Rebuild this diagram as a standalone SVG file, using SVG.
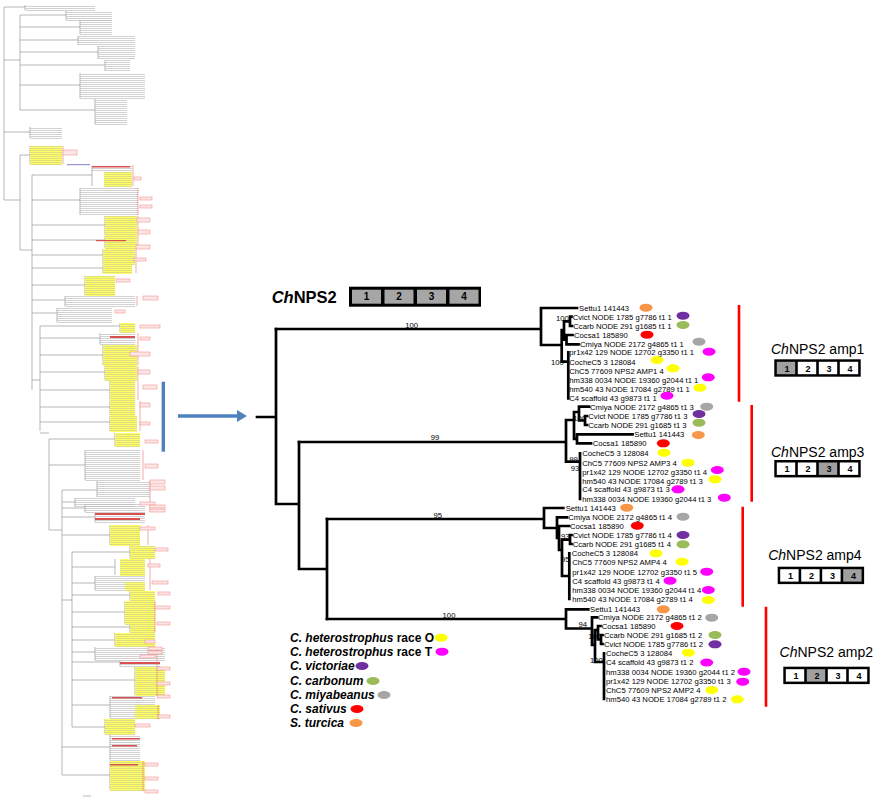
<svg xmlns="http://www.w3.org/2000/svg" width="879" height="800" viewBox="0 0 879 800">
<style>
.b{fill:none;stroke:#000;stroke-width:2.7;stroke-linecap:square}
.t{font-family:"Liberation Sans",Arial,sans-serif;font-size:7.7px;fill:#000}
.lg{font-family:"Liberation Sans",Arial,sans-serif;font-size:12px;font-weight:bold;fill:#000}
.am{font-family:"Liberation Sans",Arial,sans-serif;font-size:14px;fill:#000}
.n{font-family:"Liberation Sans",Arial,sans-serif;font-size:9px;font-weight:bold;fill:#000;text-anchor:middle}
.o{fill:#FFFF00}.m{fill:#FF00FF}.v{fill:#7030A0}.g{fill:#9BBB59}.y{fill:#A6A6A6}.r{fill:#FF0000}.s{fill:#F79646}
.th{fill:none;stroke:#999;stroke-width:0.7}
.rl{stroke:#FF0000;stroke-width:2.6}
.pk{fill:#fde6e6;stroke:#f28080;stroke-width:0.5}
.rs{fill:#d85050}
.bk{fill:none;stroke:#f07070;stroke-width:0.6}
</style>
<defs>
<pattern id="pg" width="8" height="2" patternUnits="userSpaceOnUse"><rect width="8" height="0.7" fill="#bdbdbd"/></pattern>
<pattern id="py" width="8" height="2" patternUnits="userSpaceOnUse"><rect width="8" height="2" fill="#ffff66"/><rect width="8" height="0.6" fill="#c9c98a"/></pattern>
</defs>
<rect width="879" height="800" fill="#fff"/>

<!-- overview thumbnail tree -->
<g id="overview">
<path class="th" d="M4,7V200M4,60H20M20,15V110M4,200H20M20,155V250M20,250H32M32,175V390M32,380H40M40,326V431M40,433H49M49,439V530M49,530H62M62,490V775M62,600H72M72,552V727
M4,7H25M25,5V10M20,15H66M66,11V20M20,27H80M80,20V34M20,40H78M78,36V45M20,52H98M98,46V59M20,65H105M105,60V71M20,85H80M80,73V98M20,110H95M95,99V124
M4,132H30M30,127V138M20,155H30M30,146V164M32,175H92M92,166V186M32,200H80M80,188V215M32,225H105M105,216V235M32,240H105M105,236V248M32,255H103M103,249V264M32,268H103M103,265V273M32,285H85M85,276V295M32,300H65M65,296V306M32,313H57M57,308V322
M40,326H120M120,323V332M40,338H100M100,333V344M40,355H103M103,345V365M40,372H105M105,366V380M40,390H110M110,381V400M40,407H110M110,401V415M40,422H110M110,416V431M49,439H115M115,433V446M49,465H85M85,450V480
M62,490H97M97,481V497M62,502H75M75,498V507M62,508H85M85,504V512M62,517H95M95,513V522M62,535H110M110,525V545M72,552H130M130,546V558M72,567H115M115,559V575M72,583H95M95,576V590M72,595H130M130,591V600M72,612H125M125,601V624M72,627H130M130,625V632M72,640H115M115,633V646M72,652H95M95,647V660M72,662H120M120,661V666M72,680H135M135,667V695M72,705H110M110,696V718M72,727H105M105,719V734M62,747H110M110,735V760M62,775H110M110,761V790M83,796H91"/>
<g fill="url(#pg)">
<rect x="25" y="5" width="70" height="6"/><rect x="66" y="11" width="46" height="10"/><rect x="80" y="20" width="32" height="15"/><rect x="78" y="36" width="57" height="10"/><rect x="98" y="46" width="37" height="14"/><rect x="105" y="60" width="25" height="12"/><rect x="80" y="73" width="65" height="26"/><rect x="95" y="99" width="32" height="26"/><rect x="30" y="127" width="32" height="12"/><rect x="92" y="166" width="40" height="6"/><rect x="80" y="188" width="58" height="28"/><rect x="65" y="296" width="70" height="11"/><rect x="57" y="308" width="55" height="15"/><rect x="100" y="333" width="35" height="12"/><rect x="85" y="450" width="55" height="31"/><rect x="97" y="481" width="53" height="17"/><rect x="75" y="498" width="60" height="10"/><rect x="85" y="504" width="60" height="9"/><rect x="95" y="513" width="50" height="10"/><rect x="95" y="576" width="50" height="15"/><rect x="95" y="647" width="70" height="14"/><rect x="120" y="661" width="40" height="6"/><rect x="110" y="696" width="45" height="23"/><rect x="110" y="735" width="30" height="26"/>
</g>
<g fill="url(#py)">
<rect x="30" y="146" width="32" height="19"/><rect x="104" y="172" width="28" height="15"/><rect x="105" y="216" width="32" height="20"/><rect x="105" y="236" width="32" height="13"/><rect x="103" y="249" width="32" height="16"/><rect x="103" y="265" width="29" height="9"/><rect x="85" y="276" width="30" height="20"/><rect x="120" y="323" width="15" height="10"/><rect x="103" y="345" width="34" height="21"/><rect x="105" y="366" width="32" height="15"/><rect x="110" y="381" width="25" height="20"/><rect x="110" y="401" width="25" height="15"/><rect x="110" y="416" width="27" height="16"/><rect x="115" y="433" width="25" height="14"/><rect x="110" y="525" width="30" height="21"/><rect x="130" y="546" width="25" height="13"/><rect x="120" y="559" width="25" height="17"/><rect x="125" y="582" width="20" height="9"/><rect x="130" y="591" width="25" height="10"/><rect x="125" y="601" width="30" height="24"/><rect x="130" y="625" width="25" height="8"/><rect x="115" y="633" width="40" height="14"/><rect x="135" y="667" width="30" height="29"/><rect x="135" y="705" width="25" height="14"/><rect x="105" y="719" width="30" height="16"/><rect x="110" y="761" width="35" height="30"/>
</g>
<g class="rs">
<rect x="92" y="166" width="38" height="1.5"/><rect x="110" y="336" width="25" height="2"/><rect x="95" y="513" width="50" height="2"/><rect x="95" y="518" width="45" height="2"/><rect x="120" y="662" width="40" height="2"/><rect x="112" y="697" width="30" height="1.5"/><rect x="112" y="738" width="28" height="1.5"/><rect x="112" y="745" width="25" height="1.5"/><rect x="110" y="764" width="28" height="1.5"/><rect x="96" y="240" width="30" height="1.2"/>
</g>
<path d="M67,164.7H90" stroke="#6060c0" stroke-width="0.8"/>
<path class="bk" d="M63,146V164M133,165V186M138,188V215M138,216V248M136,249V273M137,296V306M138,333V365M138,366V400M140,401V431M143,450V480M150,481V512M148,525V545M150,559V590M155,601V632M157,647V666M157,667V696M158,705V719M143,761V791"/>
<g class="pk">
<rect x="63" y="150" width="14" height="5"/><rect x="134" y="177" width="7" height="3"/><rect x="140" y="197" width="12" height="3"/><rect x="140" y="205" width="12" height="3"/><rect x="137" y="218" width="13" height="4"/><rect x="138" y="230" width="12" height="4"/><rect x="136" y="245" width="14" height="4"/><rect x="134" y="258" width="12" height="3"/><rect x="116" y="279" width="14" height="3"/><rect x="143" y="296" width="15" height="4"/><rect x="115" y="310" width="10" height="3"/><rect x="140" y="325" width="20" height="3"/><rect x="140" y="337" width="10" height="3"/><rect x="130" y="352" width="20" height="4"/><rect x="138" y="370" width="12" height="4"/><rect x="143" y="385" width="14" height="4"/><rect x="140" y="403" width="10" height="4"/><rect x="140" y="422" width="10" height="3"/><rect x="145" y="440" width="13" height="3"/><rect x="145" y="464" width="13" height="4"/><rect x="150" y="480" width="15" height="4"/><rect x="150" y="486" width="15" height="4"/><rect x="140" y="502" width="15" height="3"/><rect x="150" y="505" width="15" height="3"/><rect x="150" y="509" width="15" height="3"/><rect x="140" y="527" width="15" height="3"/><rect x="155" y="548" width="13" height="3"/><rect x="148" y="564" width="12" height="3"/><rect x="152" y="581" width="16" height="3"/><rect x="158" y="592" width="12" height="3"/><rect x="155" y="606" width="15" height="3"/><rect x="157" y="622" width="13" height="3"/><rect x="145" y="640" width="10" height="3"/><rect x="148" y="647" width="14" height="3"/><rect x="148" y="651" width="14" height="3"/><rect x="140" y="655" width="15" height="3"/><rect x="157" y="667" width="13" height="3"/><rect x="157" y="682" width="13" height="3"/><rect x="157" y="695" width="13" height="3"/><rect x="158" y="715" width="12" height="3"/><rect x="135" y="724" width="15" height="3"/><rect x="145" y="763" width="13" height="3"/><rect x="145" y="777" width="13" height="3"/><rect x="145" y="790" width="13" height="3"/>
</g>
<rect x="161.6" y="381.7" width="3.4" height="70" fill="#4F81BD"/>
</g>

<!-- arrow -->
<g id="arrow">
<path d="M178,416H239" stroke="#4F81BD" stroke-width="3.4"/>
<path d="M237,410L247,416L237,422Z" fill="#4F81BD"/>
</g>

<!-- header -->
<g id="header">
<text x="271.7" y="302.7" font-family="Liberation Sans, Arial, sans-serif" font-size="16.5" font-weight="bold"><tspan font-style="italic">Ch</tspan>NPS2</text>
<rect x="349" y="286.7" width="132" height="20" fill="#000"/>
<g fill="#A6A6A6"><rect x="352" y="289.7" width="29" height="14"/><rect x="384.5" y="289.7" width="29" height="14"/><rect x="417" y="289.7" width="29" height="14"/><rect x="449.5" y="289.7" width="29" height="14"/></g>
<g class="n" style="font-size:10px"><text x="366.5" y="300.3">1</text><text x="399" y="300.3">2</text><text x="431.5" y="300.3">3</text><text x="464" y="300.3">4</text></g>
</g>

<!-- connectors / tree branches -->
<g id="connectors">
<path class="b" d="M257,417H276M276,329V504M276,504H299M299,442V569M299,569H327M327,519V619"/>
<path class="b" d="M276,329H541M541,308V345M541,308H577M541,345H561.7M561.7,330V361.7M561.7,330H564M564,321.3V339.7M564,321.3H570M570,316.7V326M570,316.7H571.5M570,326H572M564,339.7H566.5M566.5,335V344.3M566.5,335H572.5M566.5,344.3H578.5M561.7,361.7H568.3M568.3,352.3V398.3"/>
<path class="b" d="M299,442H566M566,420V461.7M566,420H574M574,412V438.8M574,412H579M579,406.7V420.5M579,406.7H589M579,420.5H585M585,416V425M585,416H587M585,425H587M574,438.8H577M577,434.3V443.3M577,434.3H632.5M577,443.3H591M566,461.7H580M580,453.3V499"/>
<path class="b" d="M327,519H544M544,508V528M544,508H563.3M544,528H557M557,517.3V538M557,517.3H567M557,538H559M559,526V550M559,526H569M559,550H562M562,539.7V576M562,539.7H570M570,535V544M570,535H571.5M570,544H571.5M562,576H569.3M569.3,553.3V599"/>
<path class="b" d="M327,619H566M566,609.3V628.5M566,609.3H588.3M566,628.5H592M592,617.3V645M592,617.3H597M592,645H595M595,630V662M595,630H598M598,626V639.5M598,626H600.5M598,639.5H601M601,635V644M601,635H602.5M601,644H602.5M595,662H604M604,653.3V699"/>
<g class="t" text-anchor="middle">
<text x="411.7" y="327.5">100</text><text x="435" y="440">99</text><text x="437.7" y="517.5">95</text><text x="449" y="617.5">100</text>
</g>
<g class="t">
<text x="556" y="321">100</text><text x="551" y="364.5">100</text>
<text x="573.3" y="421">100</text><text x="569.3" y="462">99</text><text x="570.7" y="471">93</text>
<text x="561" y="538.8">93</text><text x="561" y="562">95</text>
<text x="578.5" y="626.5">94</text><text x="601" y="638.5" text-anchor="end">100</text><text x="590" y="662.7">100</text>
</g>
</g>

<!-- clade 1 (amp1) -->
<g id="c1-settu1"><text class="t" x="579" y="310.5">Settu1 141443</text><ellipse class="s" cx="646" cy="307.7" rx="6.5" ry="4"/></g>
<g id="c1-cvict"><text class="t" x="572.7" y="319.5">Cvict NODE 1785 g7786 t1 1</text><ellipse class="v" cx="683" cy="315.7" rx="6.5" ry="4"/></g>
<g id="c1-ccarb"><text class="t" x="573.3" y="328.8">Ccarb NODE 291 g1685 t1 1</text><ellipse class="g" cx="683" cy="325" rx="6.5" ry="4"/></g>
<g id="c1-cocsa1"><text class="t" x="574" y="337.8">Cocsa1 185890</text><ellipse class="r" cx="647" cy="334.7" rx="6.5" ry="4"/></g>
<g id="c1-cmiya"><text class="t" x="580" y="347.1">Cmiya NODE 2172 g4865 t1 1</text><ellipse class="y" cx="699" cy="341.7" rx="6.5" ry="4"/></g>
<g id="c1-pr1x42"><text class="t" x="569.3" y="355.1">pr1x42 129 NODE 12702 g3350 t1 1</text><ellipse class="m" cx="709" cy="351.7" rx="6.5" ry="4"/></g>
<g id="c1-cochec5"><text class="t" x="569.3" y="364.5">CocheC5 3 128084</text><ellipse class="o" cx="657" cy="360" rx="6.5" ry="4"/></g>
<g id="c1-chc5"><text class="t" x="569.3" y="373.5">ChC5 77609 NPS2 AMP1 4</text><ellipse class="o" cx="673" cy="368.3" rx="6.5" ry="4"/></g>
<g id="c1-hm338"><text class="t" x="569.3" y="382.8">hm338 0034 NODE 19360 g2044 t1 1</text><ellipse class="m" cx="708.3" cy="377.3" rx="6.5" ry="4"/></g>
<g id="c1-hm540"><text class="t" x="569.3" y="391.8">hm540 43 NODE 17084 g2789 t1 1</text><ellipse class="o" cx="700" cy="387.7" rx="6.5" ry="4"/></g>
<g id="c1-c4"><text class="t" x="569.3" y="401.1">C4 scaffold 43 g9873 t1 1</text><ellipse class="m" cx="667" cy="395.7" rx="6.5" ry="4"/></g>

<!-- clade 2 (amp3) -->
<g id="c2-cmiya"><text class="t" x="590" y="409.5">Cmiya NODE 2172 g4865 t1 3</text><ellipse class="y" cx="706.7" cy="406.7" rx="6.5" ry="4"/></g>
<g id="c2-cvict"><text class="t" x="588.3" y="418.8">Cvict NODE 1785 g7786 t1 3</text><ellipse class="v" cx="699" cy="414" rx="6.5" ry="4"/></g>
<g id="c2-ccarb"><text class="t" x="588.3" y="427.8">Ccarb NODE 291 g1685 t1 3</text><ellipse class="g" cx="699" cy="422.7" rx="6.5" ry="4"/></g>
<g id="c2-settu1"><text class="t" x="634.3" y="437.1">Settu1 141443</text><ellipse class="s" cx="698.3" cy="435" rx="6.5" ry="4"/></g>
<g id="c2-cocsa1"><text class="t" x="592.7" y="446.1">Cocsa1 185890</text><ellipse class="r" cx="663.3" cy="443.3" rx="6.5" ry="4"/></g>
<g id="c2-cochec5"><text class="t" x="582.3" y="456.1">CocheC5 3 128084</text><ellipse class="o" cx="664" cy="452.7" rx="6.5" ry="4"/></g>
<g id="c2-chc5"><text class="t" x="582.3" y="465.5">ChC5 77609 NPS2 AMP3 4</text><ellipse class="o" cx="688" cy="462.7" rx="6.5" ry="4"/></g>
<g id="c2-pr1x42"><text class="t" x="582.3" y="474.5">pr1x42 129 NODE 12702 g3350 t1 4</text><ellipse class="m" cx="717.3" cy="470" rx="6.5" ry="4"/></g>
<g id="c2-hm540"><text class="t" x="582.3" y="483.5">hm540 43 NODE 17084 g2789 t1 3</text><ellipse class="o" cx="715" cy="479.3" rx="6.5" ry="4"/></g>
<g id="c2-c4"><text class="t" x="582.3" y="492.1">C4 scaffold 43 g9873 t1 3</text><ellipse class="m" cx="678" cy="489.3" rx="6.5" ry="4"/></g>
<g id="c2-hm338"><text class="t" x="582.3" y="501.8">hm338 0034 NODE 19360 g2044 t1 3</text><ellipse class="m" cx="724.3" cy="497.7" rx="6.5" ry="4"/></g>

<!-- clade 3 (amp4) -->
<g id="c3-settu1"><text class="t" x="565.7" y="510.5">Settu1 141443</text><ellipse class="s" cx="626.7" cy="507.7" rx="6.5" ry="4"/></g>
<g id="c3-cmiya"><text class="t" x="568.3" y="520.1">Cmiya NODE 2172 g4865 t1 4</text><ellipse class="y" cx="683" cy="516.7" rx="6.5" ry="4"/></g>
<g id="c3-cocsa1"><text class="t" x="570" y="528.8">Cocsa1 185890</text><ellipse class="r" cx="637.3" cy="525.7" rx="6.5" ry="4"/></g>
<g id="c3-cvict"><text class="t" x="572.7" y="537.8">Cvict NODE 1785 g7786 t1 4</text><ellipse class="v" cx="683" cy="535" rx="6.5" ry="4"/></g>
<g id="c3-ccarb"><text class="t" x="572.7" y="546.8">Ccarb NODE 291 g1685 t1 4</text><ellipse class="g" cx="683" cy="544.3" rx="6.5" ry="4"/></g>
<g id="c3-cochec5"><text class="t" x="571.7" y="556.1">CocheC5 3 128084</text><ellipse class="o" cx="656" cy="553.3" rx="6.5" ry="4"/></g>
<g id="c3-chc5"><text class="t" x="572.3" y="565.1">ChC5 77609 NPS2 AMP4 4</text><ellipse class="o" cx="682" cy="561.7" rx="6.5" ry="4"/></g>
<g id="c3-pr1x42"><text class="t" x="572.3" y="574.5">pr1x42 129 NODE 12702 g3350 t1 5</text><ellipse class="m" cx="706.7" cy="571.7" rx="6.5" ry="4"/></g>
<g id="c3-c4"><text class="t" x="572.3" y="583.5">C4 scaffold 43 g9873 t1 4</text><ellipse class="m" cx="670" cy="580.7" rx="6.5" ry="4"/></g>
<g id="c3-hm338"><text class="t" x="572.3" y="592.5">hm338 0034 NODE 19360 g2044 t1 4</text><ellipse class="m" cx="708.3" cy="590" rx="6.5" ry="4"/></g>
<g id="c3-hm540"><text class="t" x="572.3" y="601.8">hm540 43 NODE 17084 g2789 t1 4</text><ellipse class="o" cx="708.3" cy="600" rx="6.5" ry="4"/></g>

<!-- clade 4 (amp2) -->
<g id="c4-settu1"><text class="t" x="590" y="612.1">Settu1 141443</text><ellipse class="s" cx="663.3" cy="609.3" rx="6.5" ry="4"/></g>
<g id="c4-cmiya"><text class="t" x="598" y="620.1">Cmiya NODE 2172 g4865 t1 2</text><ellipse class="y" cx="711.7" cy="617.7" rx="6.5" ry="4"/></g>
<g id="c4-cocsa1"><text class="t" x="601.7" y="628.8">Cocsa1 185890</text><ellipse class="r" cx="677" cy="626" rx="6.5" ry="4"/></g>
<g id="c4-ccarb"><text class="t" x="604" y="637.8">Ccarb NODE 291 g1685 t1 2</text><ellipse class="g" cx="715" cy="635" rx="6.5" ry="4"/></g>
<g id="c4-cvict"><text class="t" x="604" y="646.8">Cvict NODE 1785 g7786 t1 2</text><ellipse class="v" cx="715" cy="644.3" rx="6.5" ry="4"/></g>
<g id="c4-cochec5"><text class="t" x="606" y="656.1">CocheC5 3 128084</text><ellipse class="o" cx="688.3" cy="652.7" rx="6.5" ry="4"/></g>
<g id="c4-c4"><text class="t" x="606" y="665.1">C4 scaffold 43 g9873 t1 2</text><ellipse class="m" cx="706.7" cy="662.5" rx="6.5" ry="4"/></g>
<g id="c4-hm338"><text class="t" x="606" y="674.5">hm338 0034 NODE 19360 g2044 t1 2</text><ellipse class="m" cx="744" cy="671.7" rx="6.5" ry="4"/></g>
<g id="c4-pr1x42"><text class="t" x="606" y="683.5">pr1x42 129 NODE 12702 g3350 t1 3</text><ellipse class="m" cx="742.7" cy="681.7" rx="6.5" ry="4"/></g>
<g id="c4-chc5"><text class="t" x="606" y="692.8">ChC5 77609 NPS2 AMP2 4</text><ellipse class="o" cx="711.7" cy="690" rx="6.5" ry="4"/></g>
<g id="c4-hm540"><text class="t" x="606" y="701.8">hm540 43 NODE 17084 g2789 t1 2</text><ellipse class="o" cx="737.3" cy="699.3" rx="6.5" ry="4"/></g>

<!-- red clade bars -->
<g id="brackets">
<path class="rl" d="M739,305V401.7M751.7,405V501.7M742.7,506.7V606.7M766,606.7V706.7"/>
</g>

<!-- amp labels & domain boxes -->
<g id="amp1">
<text class="am" x="817.7" y="354" text-anchor="middle"><tspan font-style="italic">Ch</tspan>NPS2 amp1</text>
<rect x="774.3" y="359.3" width="86.4" height="17.4" fill="#000"/>
<rect x="776.8" y="361.8" width="18.4" height="12.4" fill="#A0A0A0"/><rect x="797.8" y="361.8" width="18.4" height="12.4" fill="#fff"/><rect x="818.8" y="361.8" width="18.4" height="12.4" fill="#fff"/><rect x="839.8" y="361.8" width="18.4" height="12.4" fill="#fff"/>
<text class="n" x="787" y="371.6">1</text><text class="n" x="808" y="371.6">2</text><text class="n" x="829" y="371.6">3</text><text class="n" x="850" y="371.6">4</text>
</g>
<g id="amp3">
<text class="am" x="817.7" y="456.7" text-anchor="middle"><tspan font-style="italic">Ch</tspan>NPS2 amp3</text>
<rect x="774.3" y="460" width="86.4" height="17.4" fill="#000"/>
<rect x="776.8" y="462.5" width="18.4" height="12.4" fill="#fff"/><rect x="797.8" y="462.5" width="18.4" height="12.4" fill="#fff"/><rect x="818.8" y="462.5" width="18.4" height="12.4" fill="#A0A0A0"/><rect x="839.8" y="462.5" width="18.4" height="12.4" fill="#fff"/>
<text class="n" x="787" y="472.3">1</text><text class="n" x="808" y="472.3">2</text><text class="n" x="829" y="472.3">3</text><text class="n" x="850" y="472.3">4</text>
</g>
<g id="amp4">
<text class="am" x="814.9" y="560" text-anchor="middle"><tspan font-style="italic">Ch</tspan>NPS2 amp4</text>
<rect x="777.7" y="566.7" width="86.4" height="17.4" fill="#000"/>
<rect x="780.2" y="569.2" width="18.4" height="12.4" fill="#fff"/><rect x="801.2" y="569.2" width="18.4" height="12.4" fill="#fff"/><rect x="822.2" y="569.2" width="18.4" height="12.4" fill="#fff"/><rect x="843.2" y="569.2" width="18.4" height="12.4" fill="#A0A0A0"/>
<text class="n" x="790.4" y="579">1</text><text class="n" x="811.4" y="579">2</text><text class="n" x="832.4" y="579">3</text><text class="n" x="853.4" y="579">4</text>
</g>
<g id="amp2">
<text class="am" x="826.3" y="657" text-anchor="middle"><tspan font-style="italic">Ch</tspan>NPS2 amp2</text>
<rect x="783.3" y="666.7" width="86.4" height="17.4" fill="#000"/>
<rect x="785.8" y="669.2" width="18.4" height="12.4" fill="#fff"/><rect x="806.8" y="669.2" width="18.4" height="12.4" fill="#A0A0A0"/><rect x="827.8" y="669.2" width="18.4" height="12.4" fill="#fff"/><rect x="848.8" y="669.2" width="18.4" height="12.4" fill="#fff"/>
<text class="n" x="796" y="679">1</text><text class="n" x="817" y="679">2</text><text class="n" x="838" y="679">3</text><text class="n" x="859" y="679">4</text>
</g>

<!-- legend -->
<g id="legend">
<text class="lg" x="290" y="642"><tspan font-style="italic">C. heterostrophus</tspan> race O</text><ellipse class="o" cx="441" cy="637.7" rx="6.5" ry="4"/>
<text class="lg" x="290" y="656"><tspan font-style="italic">C. heterostrophus</tspan> race T</text><ellipse class="m" cx="442" cy="651.7" rx="6.5" ry="4"/>
<text class="lg" x="290" y="670.3" font-style="italic">C. victoriae</text><ellipse class="v" cx="362" cy="666" rx="6.5" ry="4"/>
<text class="lg" x="290" y="685" font-style="italic">C. carbonum</text><ellipse class="g" cx="373" cy="681" rx="6.5" ry="4"/>
<text class="lg" x="290" y="699.3" font-style="italic">C. miyabeanus</text><ellipse class="y" cx="384" cy="695" rx="6.5" ry="4"/>
<text class="lg" x="290" y="713.3" font-style="italic">C. sativus</text><ellipse class="r" cx="357" cy="709" rx="6.5" ry="4"/>
<text class="lg" x="290" y="727.3" font-style="italic">S. turcica</text><ellipse class="s" cx="356" cy="723" rx="6.5" ry="4"/>
</g>
</svg>
